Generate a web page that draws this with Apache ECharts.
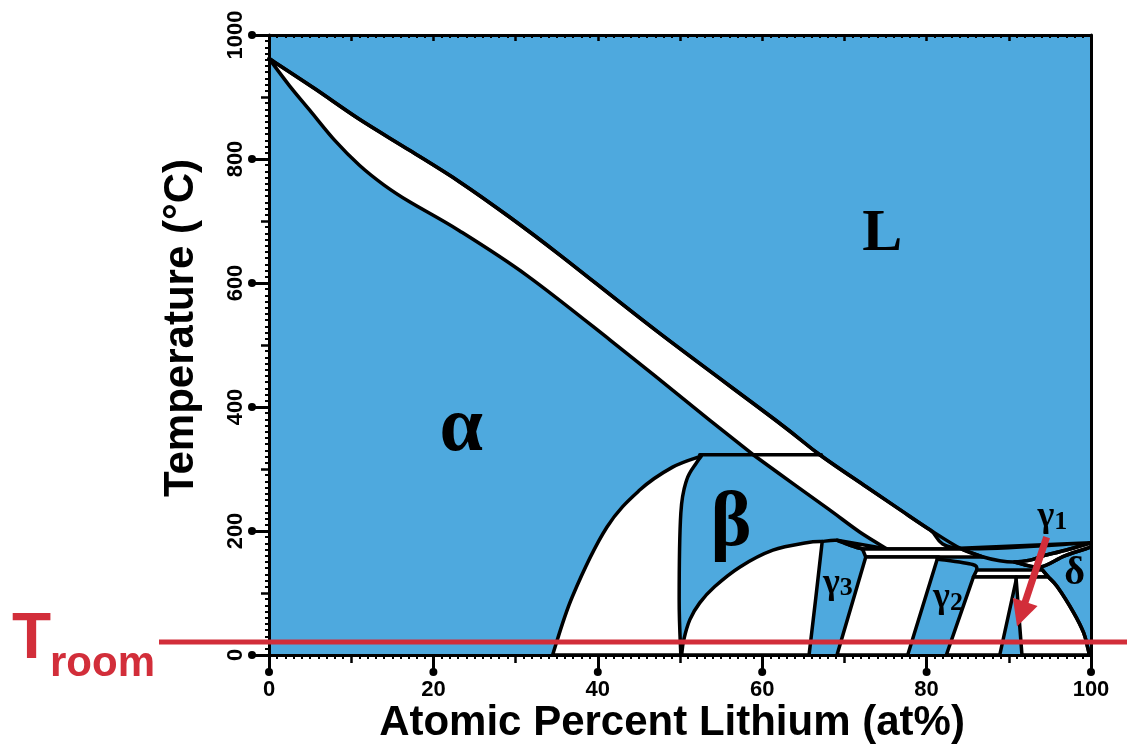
<!DOCTYPE html>
<html><head><meta charset="utf-8">
<script src="https://cdn.jsdelivr.net/npm/echarts@6/dist/echarts.min.js"></script>
<style>html,body{margin:0;padding:0;background:#fff}#c{width:1127px;height:747px}</style>
</head><body><div id="c"></div>
<script>
// ---- axis ticks ----
const xMajorTicks = [0, 20, 40, 60, 80, 100];
const yMajorTicks = [0, 200, 400, 600, 800, 1000];
const roomTemperature = 21;

// ---- phase boundaries: [at% Li, temperature °C] ----
const liquidus = [[0,962],[5.5,914],[11.0,864],[17.1,814],[23.2,763],[29.3,706],[35.4,645],[47.5,519],[61.8,377],[67.0,323],[72.7,271],[76.8,234],[80.4,202],[84.1,172],[86.9,158],[88.9,152],[90.7,150],[92.6,153],[94.2,160],[96.9,169],[100,181]];
const alphaSolidus = [[0,962],[2.5,918],[5.0,878],[8.0,830],[11.0,790],[14.0,758],[17.1,731],[23.2,684],[31.4,612],[41.5,508],[53.6,379],[58.9,323]];
const betaSolidus = [[58.9,323],[64.0,274],[68.2,234],[71.9,198],[75.2,171]];
const alphaSolvus = [[34.5,0],[36.9,94],[41.1,206],[45.1,266],[49.1,303],[52.6,321]];
const betaLeft = [[50.1,0],[49.9,89],[50.1,229],[50.8,282],[52.0,310],[52.6,321]];
const betaGammaDome = [[50.2,0],[50.45,24],[51.2,57],[52.4,84],[54.2,110],[57.3,142],[61.3,169],[65.4,181],[67.3,183]];
const gamma3Left = [[67.3,183],[66.5,90],[65.7,0]];
const gamma3Top = [[67.3,183],[69.1,185],[70.7,177],[72.2,171]];
const peritecticBeta = [[52.4,323],[67.2,323]];
const peritecticGamma3 = [[72.2,171],[84.2,171],[86.9,158],[72.6,158]];
const gamma3Gamma2 = [[72.6,158],[81.5,158],[81.3,155],[77.7,0],[69.1,0]];
const gamma2Top = [[81.3,155],[85.6,146],[86.1,137]];
const peritecticGamma1 = [[86.1,137],[94.1,137],[94.8,126],[85.7,126]];
const gamma2Gamma1 = [[85.7,126],[90.9,126],[90.9,121],[88.9,0],[82.4,0]];
const deltaSolvus = [[93.8,142],[94.8,126],[95.9,110],[97.9,68],[99.1,36],[99.6,12],[99.8,0]];
const deltaSolidus = [[90.7,150],[93.8,142],[96.8,160],[100,174]];
const gamma1Right = [[90.9,121],[91.6,0]];

// ---- labels ----
const phaseLabels = [
  {text:'L', at:[74.6,679], kind:'big'},
  {text:'α', at:[23.4,363], kind:'greek'},
  {text:'β', at:[56.2,210], kind:'greek'},
  {text:'{g|γ}{s|3}', at:[69.2,119], kind:'small'},
  {text:'{g|γ}{s|2}', at:[82.6,95], kind:'small'},
  {text:'{g|γ}{s|1}', at:[95.3,226], kind:'small'},
  {text:'δ', at:[98.0,131], kind:'delta'}
];
const arrowFrom = [94.6,190];
const arrowTo = [91.0,46];

const rev = a => a.slice().reverse();
const straight = pts => { pts.straight = true; return pts; };
// two-phase regions (white), each is a list of boundary pieces; pieces meet at corners
const regions = [
  [liquidus.filter(p => p[1] > 171), straight([[84.1,172],[84.2,171],[75.2,171]]), rev(betaSolidus), rev(alphaSolidus)],
  [alphaSolvus, rev(betaLeft)],
  [betaGammaDome, gamma3Left],
  [straight([[69.1,185],[75.2,171],[72.2,171]]), rev(gamma3Top).slice(0,3)],
  [straight(peritecticGamma3.slice())],
  [straight(gamma3Gamma2.slice())],
  [straight(peritecticGamma1.slice())],
  [straight(gamma2Gamma1.slice())],
  [straight([[90.9,126],[94.8,126]]), [[94.8,126]].concat(deltaSolvus.filter(p => p[1] < 126)), straight([[99.8,0], gamma1Right[1], gamma1Right[0], [90.9,126]])],
  [liquidus.filter(p => p[0] >= 90.7), straight([[100,181],[100,174]]), rev(deltaSolidus)]
];
const boundaryLines = [liquidus, deltaSolvus, peritecticBeta, gamma3Top, gamma2Top, deltaSolidus];

// Catmull-Rom path through screen points of a piece
function piecePath(pts, first, smooth) {
  let d = (first ? 'M' : 'L') + pts[0][0] + ' ' + pts[0][1];
  if (!smooth || pts.length < 3) {
    for (let i = 1; i < pts.length; i++) d += 'L' + pts[i][0] + ' ' + pts[i][1];
    return d;
  }
  for (let i = 0; i < pts.length - 1; i++) {
    const p0 = pts[Math.max(i-1,0)], p1 = pts[i], p2 = pts[i+1], p3 = pts[Math.min(i+2, pts.length-1)];
    const c1 = [p1[0] + (p2[0]-p0[0])/6, p1[1] + (p2[1]-p0[1])/6];
    const c2 = [p2[0] - (p3[0]-p1[0])/6, p2[1] - (p3[1]-p1[1])/6];
    d += 'C' + c1[0] + ' ' + c1[1] + ' ' + c2[0] + ' ' + c2[1] + ' ' + p2[0] + ' ' + p2[1];
  }
  return d;
}

const BLUE = '#4ea9de', RED = '#d22e3a', LW = 3.5;
const chart = echarts.init(document.getElementById('c'));

const tickStyle = {color:'#000', width:3};
const fontAx = {color:'#000', fontFamily:'Liberation Sans', fontWeight:'bold', fontSize:22};
const xBase = {type:'value', min:0, max:100, splitLine:{show:false}, minorSplitLine:{show:false}};
const yBase = {type:'value', min:0, max:1000, splitLine:{show:false}, minorSplitLine:{show:false}};

const option = {
  backgroundColor:'#fff',
  animation:false,
  grid:{left:269, right:36, top:35, bottom:92, show:true, backgroundColor:BLUE, borderWidth:0, outerBoundsMode:'none'},
  xAxis:[
    Object.assign({}, xBase, {interval:10, position:'bottom',
      axisLine:{show:true, onZero:false, lineStyle:tickStyle},
      axisTick:{show:true, length:8, lineStyle:{color:'#000', width:2.5}},
      minorTick:{show:true, splitNumber:10, length:4, lineStyle:{color:'#000', width:2}},
      axisLabel:{show:false}}),
    Object.assign({}, xBase, {interval:20, position:'bottom',
      axisLine:{show:false, onZero:false},
      axisTick:{show:true, length:17, lineStyle:tickStyle},
      axisLabel:Object.assign({show:true, margin:24}, fontAx)}),
    Object.assign({}, xBase, {interval:10, position:'top',
      axisLine:{show:true, onZero:false, lineStyle:tickStyle},
      axisTick:{show:true, inside:true, length:6, lineStyle:{color:'#000', width:2.5}},
      minorTick:{show:true, splitNumber:10, length:3, lineStyle:{color:'#000', width:2}},
      axisLabel:{show:false}})
  ],
  yAxis:[
    Object.assign({}, yBase, {interval:100, position:'left',
      axisLine:{show:true, onZero:false, lineStyle:tickStyle},
      axisTick:{show:true, length:8, lineStyle:{color:'#000', width:2.5}},
      minorTick:{show:true, splitNumber:10, length:4, lineStyle:{color:'#000', width:2}},
      axisLabel:{show:false}}),
    Object.assign({}, yBase, {interval:200, position:'left',
      axisLine:{show:false, onZero:false},
      axisTick:{show:true, length:17, lineStyle:tickStyle},
      axisLabel:Object.assign({show:true, margin:22, rotate:90, formatter: v => String(v)}, fontAx)}),
    Object.assign({}, yBase, {interval:200, position:'right',
      axisLine:{show:true, onZero:false, lineStyle:tickStyle},
      axisTick:{show:false}, axisLabel:{show:false}})
  ],
  graphic:[
    {type:'text', x:12, y:640, style:{text:'T', font:'bold 64px "Liberation Sans"', fill:RED, verticalAlign:'middle'}},
    {type:'text', x:50, y:664, style:{text:'room', font:'bold 42px "Liberation Sans"', fill:RED, verticalAlign:'middle'}},
    {type:'text', x:672, y:723, style:{text:'Atomic Percent Lithium (at%)', font:'bold 42px "Liberation Sans"', fill:'#000', align:'center', verticalAlign:'middle'}},
    {type:'text', x:181, y:328, rotation:Math.PI/2, style:{text:'Temperature (°C)', font:'bold 42px "Liberation Sans"', fill:'#000', align:'center', verticalAlign:'middle'}}
  ],
  series:[
    // two-phase regions
    {type:'custom', xAxisIndex:0, yAxisIndex:0, clip:false, silent:true, z:2,
     data: regions.map(r => r[0][0]),
     renderItem:(params, api) => {
       const r = regions[params.dataIndex];
       let d = '';
       r.forEach((piece, k) => {
         d += piecePath(piece.map(p => api.coord(p)), k === 0, !piece.straight);
       });
       d += 'Z';
       return {type:'path', shape:{pathData:d}, style:{fill:'#fff', stroke:'#000', lineWidth:LW, lineJoin:'round'}};
     }},
    // boundary lines
    {type:'custom', xAxisIndex:0, yAxisIndex:0, clip:false, silent:true, z:3,
     data: boundaryLines.map(l => l[0]),
     renderItem:(params, api) => {
       const l = boundaryLines[params.dataIndex];
       return {type:'path', shape:{pathData: piecePath(l.map(p => api.coord(p)), true, true)},
               style:{fill:null, stroke:'#000', lineWidth:LW, lineJoin:'round', lineCap:'round'}};
     }},
    // room temperature line
    {type:'custom', xAxisIndex:0, yAxisIndex:0, clip:false, silent:true, z:6,
     data:[[0, roomTemperature]],
     renderItem:(params, api) => {
       const p = api.coord([0, api.value(1)]);
       return {type:'line', shape:{x1:p[0]-110, y1:p[1], x2:api.getWidth(), y2:p[1]}, style:{stroke:RED, lineWidth:5}};
     }},
    // arrow
    {type:'custom', xAxisIndex:0, yAxisIndex:0, clip:false, silent:true, z:7,
     data:[arrowFrom.concat(arrowTo)],
     renderItem:(params, api) => {
       const a = api.coord([api.value(0), api.value(1)]);
       const b = api.coord([api.value(2), api.value(3)]);
       const dx = b[0]-a[0], dy = b[1]-a[1], L = Math.hypot(dx, dy);
       const ux = dx/L, uy = dy/L, hl = 26, hw = 13;
       const bx = b[0]-ux*hl, by = b[1]-uy*hl;
       return {type:'group', children:[
         {type:'line', shape:{x1:a[0], y1:a[1], x2:bx+ux*4, y2:by+uy*4}, style:{stroke:RED, lineWidth:7}},
         {type:'polygon', shape:{points:[[b[0],b[1]],[bx-uy*hw, by+ux*hw],[bx+uy*hw, by-ux*hw]]}, style:{fill:RED}}
       ]};
     }},
    // tick end dots (x)
    {type:'custom', xAxisIndex:1, yAxisIndex:1, clip:false, silent:true, z:5,
     data: xMajorTicks.map(v => [v, 0]),
     renderItem:(params, api) => {
       const p = api.coord([api.value(0), api.value(1)]);
       return {type:'circle', shape:{cx:p[0], cy:p[1]+17, r:4}, style:{fill:'#000'}};
     }},
    // tick end dots (y)
    {type:'custom', xAxisIndex:1, yAxisIndex:1, clip:false, silent:true, z:5,
     data: yMajorTicks.map(v => [0, v]),
     renderItem:(params, api) => {
       const p = api.coord([api.value(0), api.value(1)]);
       return {type:'circle', shape:{cx:p[0]-17, cy:p[1], r:4}, style:{fill:'#000'}};
     }},
    // phase labels
    {type:'custom', xAxisIndex:0, yAxisIndex:0, clip:false, silent:true, z:8,
     data: phaseLabels.map(l => l.at),
     renderItem:(params, api) => {
       const l = phaseLabels[params.dataIndex];
       const p = api.coord(l.at);
       const fonts = {big:'bold 60px "Liberation Serif"', greek:'bold 78px "Liberation Serif"', delta:'bold 40px "Liberation Serif"'};
       const style = {text:l.text, fill:'#000', align:'center', verticalAlign:'middle'};
       if (l.kind === 'small') {
         style.rich = {g:{font:'bold 36px "Liberation Serif"', lineHeight:40, verticalAlign:'bottom'}, s:{font:'bold 26px "Liberation Serif"', lineHeight:30, verticalAlign:'bottom'}};
       } else {
         style.font = fonts[l.kind];
       }
       return {type:'text', x:p[0], y:p[1], style:style};
     }}
  ]
};
chart.setOption(option);
</script></body></html>
